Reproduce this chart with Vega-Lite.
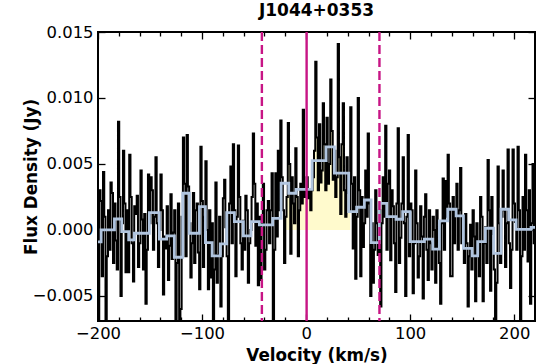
{
  "$schema": "https://vega.github.io/schema/vega-lite/v6.json",
  "width": 437,
  "height": 289,
  "autosize": "none",
  "padding": {"left": 98, "top": 32, "right": 1, "bottom": 43},
  "background": "white",
  "title": {"text": "J1044+0353", "fontSize": 17, "fontWeight": "bold", "font": "DejaVu Sans", "color": "black", "offset": 4},
  "config": {
    "view": {"stroke": "black", "strokeWidth": 2},
    "axis": {"domain": false, "grid": false, "labelFlush": false, "tickColor": "black", "tickWidth": 1.3, "labelColor": "black", "labelFont": "DejaVu Sans", "labelFontSize": 16.4, "titleFont": "DejaVu Sans", "titleFontSize": 16.8, "titleFontWeight": "bold", "titleColor": "black"}
  },
  "datasets": {
    "spec": [
      {"v":-200.0,"f":-0.0075},{"v":-198.8,"f":0.0030},{"v":-197.6,"f":0.0022},{"v":-196.4,"f":-0.0035},
      {"v":-195.2,"f":0.0044},{"v":-194.0,"f":0.0010},{"v":-192.8,"f":-0.0078},{"v":-191.6,"f":-0.0020},
      {"v":-190.4,"f":0.0015},{"v":-189.2,"f":-0.0015},{"v":-188.0,"f":0.0036},{"v":-186.8,"f":0.0028},
      {"v":-185.6,"f":-0.0025},{"v":-184.4,"f":0.0020},{"v":-183.2,"f":-0.0008},{"v":-182.0,"f":-0.0030},
      {"v":-180.8,"f":0.0082},{"v":-179.6,"f":0.0025},{"v":-178.4,"f":-0.0050},{"v":-177.2,"f":0.0005},
      {"v":-176.0,"f":0.0060},{"v":-174.8,"f":0.0020},{"v":-173.6,"f":-0.0032},{"v":-172.4,"f":0.0015},
      {"v":-171.2,"f":-0.0032},{"v":-170.0,"f":0.0057},{"v":-168.8,"f":0.0025},{"v":-167.6,"f":-0.0010},
      {"v":-166.4,"f":-0.0039},{"v":-165.2,"f":0.0018},{"v":-164.0,"f":0.0012},{"v":-162.8,"f":0.0026},
      {"v":-161.6,"f":-0.0028},{"v":-160.4,"f":-0.0010},{"v":-159.2,"f":0.0045},{"v":-158.0,"f":0.0008},
      {"v":-156.8,"f":-0.0030},{"v":-155.6,"f":0.0012},{"v":-154.4,"f":-0.0056},{"v":-153.2,"f":-0.0015},
      {"v":-152.0,"f":0.0042},{"v":-150.8,"f":0.0005},{"v":-149.6,"f":0.0040},{"v":-148.4,"f":0.0030},
      {"v":-147.2,"f":-0.0015},{"v":-146.0,"f":0.0010},{"v":-144.8,"f":0.0055},{"v":-143.6,"f":0.0005},
      {"v":-142.4,"f":-0.0028},{"v":-141.2,"f":0.0000},{"v":-140.0,"f":0.0042},{"v":-138.8,"f":0.0015},
      {"v":-137.6,"f":-0.0049},{"v":-136.4,"f":-0.0005},{"v":-135.2,"f":-0.0014},{"v":-134.0,"f":0.0018},
      {"v":-132.8,"f":-0.0038},{"v":-131.6,"f":-0.0012},{"v":-130.4,"f":0.0027},{"v":-129.2,"f":-0.0022},
      {"v":-128.0,"f":-0.0002},{"v":-126.8,"f":0.0015},{"v":-125.6,"f":-0.0076},{"v":-124.4,"f":-0.0025},
      {"v":-123.2,"f":0.0020},{"v":-122.0,"f":-0.0076},{"v":-120.8,"f":-0.0060},{"v":-119.6,"f":0.0010},
      {"v":-118.4,"f":0.0070},{"v":-117.2,"f":0.0035},{"v":-116.0,"f":-0.0020},{"v":-114.8,"f":0.0072},
      {"v":-113.6,"f":0.0033},{"v":-112.4,"f":0.0005},{"v":-111.2,"f":-0.0036},{"v":-110.0,"f":-0.0010},
      {"v":-108.8,"f":0.0028},{"v":-107.6,"f":-0.0025},{"v":-106.4,"f":0.0015},{"v":-105.2,"f":0.0020},
      {"v":-104.0,"f":-0.0017},{"v":-102.8,"f":-0.0045},{"v":-101.6,"f":0.0063},{"v":-100.4,"f":0.0022},
      {"v":-99.2,"f":-0.0028},{"v":-98.0,"f":0.0010},{"v":-96.8,"f":0.0052},{"v":-95.6,"f":0.0000},
      {"v":-94.4,"f":-0.0045},{"v":-93.2,"f":0.0015},{"v":-92.0,"f":-0.0036},{"v":-90.8,"f":0.0005},
      {"v":-89.6,"f":-0.0076},{"v":-88.4,"f":-0.0030},{"v":-87.2,"f":0.0036},{"v":-86.0,"f":-0.0040},
      {"v":-84.8,"f":-0.0019},{"v":-83.6,"f":0.0010},{"v":-82.4,"f":-0.0058},{"v":-81.2,"f":-0.0020},
      {"v":-80.0,"f":0.0024},{"v":-78.8,"f":0.0038},{"v":-77.6,"f":0.0002},{"v":-76.4,"f":-0.0020},
      {"v":-75.2,"f":-0.0074},{"v":-74.0,"f":0.0020},{"v":-72.8,"f":0.0048},{"v":-71.6,"f":-0.0010},
      {"v":-70.4,"f":0.0065},{"v":-69.2,"f":0.0015},{"v":-68.0,"f":-0.0035},{"v":-66.8,"f":0.0010},
      {"v":-65.6,"f":0.0064},{"v":-64.4,"f":0.0025},{"v":-63.2,"f":-0.0010},{"v":-62.0,"f":-0.0030},
      {"v":-60.8,"f":0.0007},{"v":-59.6,"f":-0.0015},{"v":-58.4,"f":0.0026},{"v":-57.2,"f":0.0015},
      {"v":-56.0,"f":-0.0040},{"v":-54.8,"f":-0.0010},{"v":-53.6,"f":0.0000},{"v":-52.4,"f":0.0025},
      {"v":-51.2,"f":0.0073},{"v":-50.0,"f":0.0035},{"v":-48.8,"f":-0.0012},{"v":-47.6,"f":0.0020},
      {"v":-46.4,"f":-0.0042},{"v":-45.2,"f":0.0010},{"v":-44.0,"f":-0.0038},{"v":-42.8,"f":0.0005},
      {"v":-41.6,"f":0.0035},{"v":-40.4,"f":-0.0030},{"v":-39.2,"f":-0.0015},{"v":-38.0,"f":0.0015},
      {"v":-36.8,"f":0.0022},{"v":-35.6,"f":-0.0010},{"v":-34.4,"f":0.0015},{"v":-33.2,"f":0.0043},
      {"v":-32.0,"f":-0.0076},{"v":-30.8,"f":-0.0015},{"v":-29.6,"f":0.0043},{"v":-28.4,"f":-0.0005},
      {"v":-27.2,"f":0.0060},{"v":-26.0,"f":0.0015},{"v":-24.8,"f":0.0083},{"v":-23.6,"f":0.0040},
      {"v":-22.4,"f":0.0015},{"v":-21.2,"f":-0.0025},{"v":-20.0,"f":0.0010},{"v":-18.8,"f":0.0025},
      {"v":-17.6,"f":0.0081},{"v":-16.4,"f":0.0050},{"v":-15.2,"f":-0.0018},{"v":-14.0,"f":0.0040},
      {"v":-12.8,"f":0.0020},{"v":-11.6,"f":0.0005},{"v":-10.4,"f":0.0062},{"v":-9.2,"f":0.0025},
      {"v":-8.0,"f":-0.0020},{"v":-6.8,"f":0.0015},{"v":-5.6,"f":0.0035},{"v":-4.4,"f":0.0020},
      {"v":-3.2,"f":0.0091},{"v":-2.0,"f":0.0025},{"v":-0.8,"f":0.0029},{"v":0.4,"f":0.0040},
      {"v":1.6,"f":0.0024},{"v":2.8,"f":0.0030},{"v":4.0,"f":0.0015},{"v":5.2,"f":0.0030},
      {"v":6.4,"f":0.0040},{"v":7.6,"f":0.0060},{"v":8.8,"f":0.01275},{"v":10.0,"f":0.0070},
      {"v":11.2,"f":0.0030},{"v":12.4,"f":0.0080},{"v":13.6,"f":0.0036},{"v":14.8,"f":0.0045},
      {"v":16.0,"f":0.0096},{"v":17.2,"f":0.0065},{"v":18.4,"f":0.0030},{"v":19.6,"f":0.0085},
      {"v":20.8,"f":0.0035},{"v":22.0,"f":0.0050},{"v":23.2,"f":0.0114},{"v":24.4,"f":0.0075},
      {"v":25.6,"f":0.0038},{"v":26.8,"f":0.0060},{"v":28.0,"f":0.0025},{"v":29.2,"f":0.0040},
      {"v":30.4,"f":0.0141},{"v":31.6,"f":0.0055},{"v":32.8,"f":0.0012},{"v":34.0,"f":0.0065},
      {"v":35.2,"f":0.0096},{"v":36.4,"f":0.0030},{"v":37.6,"f":0.0010},{"v":38.8,"f":0.0055},
      {"v":40.0,"f":0.0028},{"v":41.2,"f":0.0015},{"v":42.4,"f":0.0093},{"v":43.6,"f":0.0035},
      {"v":44.8,"f":-0.0014},{"v":46.0,"f":0.0040},{"v":47.2,"f":-0.0037},{"v":48.4,"f":0.0010},
      {"v":49.6,"f":0.0100},{"v":50.8,"f":0.0030},{"v":52.0,"f":-0.0035},{"v":53.2,"f":0.0025},
      {"v":54.4,"f":-0.0013},{"v":55.6,"f":0.0005},{"v":56.8,"f":0.0045},{"v":58.0,"f":0.0010},
      {"v":59.2,"f":0.0073},{"v":60.4,"f":0.0020},{"v":61.6,"f":-0.0050},{"v":62.8,"f":0.0005},
      {"v":64.0,"f":-0.0040},{"v":65.2,"f":-0.0015},{"v":66.4,"f":0.0030},{"v":67.6,"f":0.0005},
      {"v":68.8,"f":-0.0019},{"v":70.0,"f":0.0015},{"v":71.2,"f":-0.0058},{"v":72.4,"f":0.0005},
      {"v":73.6,"f":0.0040},{"v":74.8,"f":0.0010},{"v":76.0,"f":0.0079},{"v":77.2,"f":-0.0015},
      {"v":78.4,"f":0.0035},{"v":79.6,"f":0.0045},{"v":80.8,"f":-0.0023},{"v":82.0,"f":0.0030},
      {"v":83.2,"f":0.0018},{"v":84.4,"f":-0.0010},{"v":85.6,"f":-0.0047},{"v":86.8,"f":0.0020},
      {"v":88.0,"f":0.0077},{"v":89.2,"f":-0.0025},{"v":90.4,"f":-0.0006},{"v":91.6,"f":0.0020},
      {"v":92.8,"f":0.0055},{"v":94.0,"f":0.0005},{"v":95.2,"f":-0.0050},{"v":96.4,"f":0.0010},
      {"v":97.6,"f":0.0072},{"v":98.8,"f":-0.0020},{"v":100.0,"f":0.0020},{"v":101.2,"f":0.0015},
      {"v":102.4,"f":-0.0048},{"v":103.6,"f":-0.0010},{"v":104.8,"f":0.0045},{"v":106.0,"f":0.0005},
      {"v":107.2,"f":-0.0036},{"v":108.4,"f":-0.0020},{"v":109.6,"f":0.0018},{"v":110.8,"f":-0.0005},
      {"v":112.0,"f":-0.0052},{"v":113.2,"f":0.0010},{"v":114.4,"f":0.0027},{"v":115.6,"f":-0.0015},
      {"v":116.8,"f":-0.0038},{"v":118.0,"f":0.0015},{"v":119.2,"f":-0.0010},{"v":120.4,"f":-0.0030},
      {"v":121.6,"f":0.0010},{"v":122.8,"f":0.0000},{"v":124.0,"f":-0.0040},{"v":125.2,"f":0.0015},
      {"v":126.4,"f":-0.0014},{"v":127.6,"f":-0.0025},{"v":128.8,"f":-0.0056},{"v":130.0,"f":0.0005},
      {"v":131.2,"f":0.0039},{"v":132.4,"f":-0.0015},{"v":133.6,"f":0.0037},{"v":134.8,"f":0.0010},
      {"v":136.0,"f":0.0057},{"v":137.2,"f":0.0020},{"v":138.4,"f":-0.0035},{"v":139.6,"f":-0.0035},
      {"v":140.8,"f":0.0025},{"v":142.0,"f":-0.0010},{"v":143.2,"f":0.0016},{"v":144.4,"f":0.0035},
      {"v":145.6,"f":-0.0015},{"v":146.8,"f":0.0015},{"v":148.0,"f":0.0047},{"v":149.2,"f":-0.0010},
      {"v":150.4,"f":0.0000},{"v":151.6,"f":-0.0025},{"v":152.8,"f":0.0012},{"v":154.0,"f":-0.0010},
      {"v":155.2,"f":-0.0058},{"v":156.4,"f":-0.0020},{"v":157.6,"f":0.0004},{"v":158.8,"f":-0.0030},
      {"v":160.0,"f":0.0015},{"v":161.2,"f":-0.0005},{"v":162.4,"f":-0.0054},{"v":163.6,"f":0.0005},
      {"v":164.8,"f":-0.0020},{"v":166.0,"f":-0.0035},{"v":167.2,"f":0.0025},{"v":168.4,"f":0.0010},
      {"v":169.6,"f":-0.0054},{"v":170.8,"f":-0.0010},{"v":172.0,"f":0.0002},{"v":173.2,"f":-0.0025},
      {"v":174.4,"f":0.0053},{"v":175.6,"f":0.0015},{"v":176.8,"f":-0.0046},{"v":178.0,"f":0.0025},
      {"v":179.2,"f":-0.0003},{"v":180.4,"f":-0.0030},{"v":181.6,"f":-0.0076},{"v":182.8,"f":-0.0040},
      {"v":184.0,"f":0.0048},{"v":185.2,"f":0.0005},{"v":186.4,"f":-0.0025},{"v":187.6,"f":0.0010},
      {"v":188.8,"f":0.0045},{"v":190.0,"f":0.0015},{"v":191.2,"f":-0.0028},{"v":192.4,"f":0.0005},
      {"v":193.6,"f":0.0061},{"v":194.8,"f":-0.0010},{"v":196.0,"f":-0.0044},{"v":197.2,"f":-0.0015},
      {"v":198.4,"f":0.0061},{"v":199.6,"f":0.0020},{"v":200.8,"f":0.0006},{"v":202.0,"f":-0.0015},
      {"v":203.2,"f":0.0063},{"v":204.4,"f":0.0015},{"v":205.6,"f":-0.0076},{"v":206.8,"f":-0.0020},
      {"v":208.0,"f":0.0025},{"v":209.2,"f":-0.0015},{"v":210.4,"f":0.0057},{"v":211.6,"f":0.0015},
      {"v":212.8,"f":-0.0024},{"v":214.0,"f":0.0030},{"v":215.2,"f":-0.0056},{"v":216.4,"f":0.0005},
      {"v":217.6,"f":0.0050},{"v":218.8,"f":-0.0010},{"v":220.0,"f":-0.0010}
    ],
    "binned": [
      {"v": -201.0, "f": -0.0009}, {"v": -197.0, "f": 0.0000}, {"v": -184.2, "f": 0.00083}, {"v": -177.2, "f": -0.00013},
      {"v": -170.5, "f": -0.00076}, {"v": -165.0, "f": -0.00025}, {"v": -150.6, "f": 0.00131}, {"v": -141.0, "f": -0.0007},
      {"v": -134.0, "f": -0.00045}, {"v": -126.6, "f": -0.00207}, {"v": -118.6, "f": 0.00278}, {"v": -112.2, "f": -0.00025},
      {"v": -102.5, "f": 0.00177}, {"v": -96.8, "f": -0.00096}, {"v": -90.3, "f": -0.00197}, {"v": -82.4, "f": -0.00106},
      {"v": -76.3, "f": 0.00131}, {"v": -68.9, "f": 0.00063}, {"v": -60.3, "f": -0.00045}, {"v": -52.9, "f": 0.00063},
      {"v": -44.9, "f": 0.00038}, {"v": -32.1, "f": 0.00088}, {"v": -24.0, "f": 0.00354}, {"v": -16.7, "f": 0.00278},
      {"v": -9.6, "f": 0.00308}, {"v": 5.8, "f": 0.00525}, {"v": 19.2, "f": 0.0063}, {"v": 27.2, "f": 0.0043},
      {"v": 40.9, "f": 0.00139}, {"v": 48.6, "f": 0.00172}, {"v": 56.0, "f": 0.00227}, {"v": 62.5, "f": -0.00096},
      {"v": 70.4, "f": 0.00202}, {"v": 77.5, "f": 0.00101}, {"v": 86.5, "f": 0.00081}, {"v": 92.8, "f": 0.00139},
      {"v": 99.9, "f": -0.00089}, {"v": 113.7, "f": -0.0007}, {"v": 121.7, "f": -0.00146}, {"v": 128.1, "f": 0.00068},
      {"v": 136.1, "f": 0.00157}, {"v": 144.2, "f": 0.00106}, {"v": 151.2, "f": -0.00139}, {"v": 159.5, "f": -0.00197},
      {"v": 164.9, "f": -0.00089}, {"v": 172.3, "f": 0.00013}, {"v": 180.3, "f": -0.00177}, {"v": 187.4, "f": 0.00157},
      {"v": 194.7, "f": 0.00076}, {"v": 201.8, "f": 0.00005}, {"v": 216.2, "f": 0.0002}, {"v": 220.0, "f": 0.0002}
    ],
    "vlines": [
      {"v": -42.5, "kind": "dashed"}, {"v": 0.5, "kind": "solid"}, {"v": 70.5, "kind": "dashed"}
    ]
  },
  "layer": [
    {
      "data": {"name": "spec"},
      "transform": [{"filter": "datum.v >= -20 && datum.v <= 42.4"}],
      "mark": {"type": "area", "interpolate": "step-after", "color": "#fffacd", "clip": true},
      "encoding": {
        "x": {"field": "v", "type": "quantitative", "scale": {"domain": [-200, 220], "nice": false, "zero": false},
              "axis": {"orient": "bottom", "values": [-200, -100, 0, 100, 200], "format": "d", "title": "Velocity (km/s)", "tickSize": -7, "labelPadding": 11, "titlePadding": 6}},
        "y": {"field": "f", "type": "quantitative", "scale": {"domain": [-0.0069, 0.015], "nice": false, "zero": false},
              "axis": {"orient": "left", "values": [-0.005, 0, 0.005, 0.01, 0.015], "format": ".3f", "title": "Flux Density (Jy)", "tickSize": -7, "labelPadding": 12, "titlePadding": -8}},
        "y2": {"datum": 0}
      }
    },
    {
      "data": {"name": "spec"},
      "mark": {"type": "line", "interpolate": "step-after", "color": "black", "strokeWidth": 2, "clip": true},
      "encoding": {
        "x": {"field": "v", "type": "quantitative", "scale": {"domain": [-200, 220], "nice": false, "zero": false}, "axis": {"orient": "top", "values": [-200, -100, 0, 100, 200], "labels": false, "title": null, "tickSize": -7}},
        "y": {"field": "f", "type": "quantitative", "scale": {"domain": [-0.0069, 0.015], "nice": false, "zero": false}, "axis": {"orient": "right", "values": [-0.005, 0, 0.005, 0.01, 0.015], "labels": false, "title": null, "tickSize": -7}}
      }
    },
    {
      "data": {"name": "binned"},
      "mark": {"type": "line", "interpolate": "step-after", "color": "#b0c4de", "strokeWidth": 2.8, "clip": true},
      "encoding": {
        "x": {"field": "v", "type": "quantitative", "scale": {"domain": [-200, 220], "nice": false, "zero": false}, "axis": {"orient": "bottom", "values": [-180, -160, -140, -120, -80, -60, -40, -20, 20, 40, 60, 80, 120, 140, 160, 180, 220], "labels": false, "title": null, "tickSize": -4}},
        "y": {"field": "f", "type": "quantitative", "scale": {"domain": [-0.0069, 0.015], "nice": false, "zero": false}, "axis": null}
      }
    },
    {
      "mark": {"type": "rule", "color": "#808080", "strokeWidth": 2},
      "encoding": {"y": {"datum": 0, "type": "quantitative", "scale": {"domain": [-0.0069, 0.015], "nice": false, "zero": false}, "axis": null}}
    },
    {
      "data": {"name": "vlines"},
      "mark": {"type": "rule", "color": "#c71585", "strokeWidth": 2.4},
      "encoding": {
        "x": {"field": "v", "type": "quantitative", "scale": {"domain": [-200, 220], "nice": false, "zero": false}, "axis": {"orient": "top", "values": [-180, -160, -140, -120, -80, -60, -40, -20, 20, 40, 60, 80, 120, 140, 160, 180, 220], "labels": false, "title": null, "tickSize": -4}},
        "strokeDash": {"field": "kind", "type": "nominal", "scale": {"domain": ["solid", "dashed"], "range": [[1, 0], [9, 4]]}, "legend": null}
      }
    }
  ],
  "resolve": {"axis": {"x": "independent", "y": "independent"}}
}
